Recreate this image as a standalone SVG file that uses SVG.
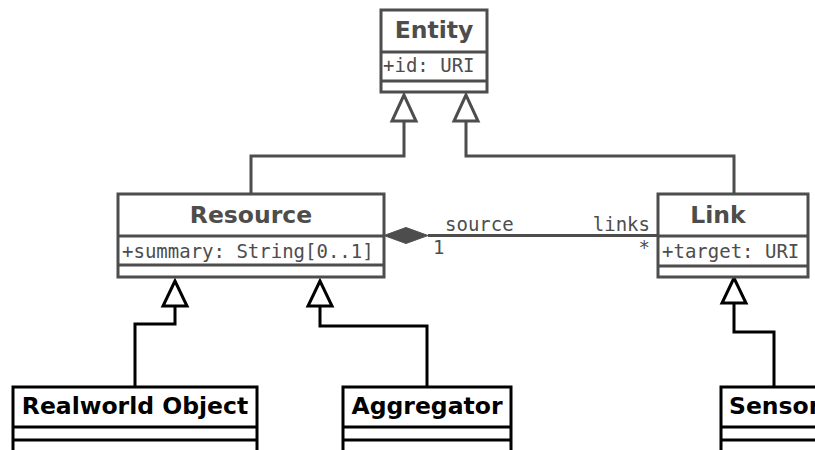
<svg xmlns="http://www.w3.org/2000/svg" width="815" height="450" viewBox="0 0 815 450">
<defs>
<style>
.g{fill:#fff;stroke:#4d4d4d;stroke-width:3}
.b{fill:#fff;stroke:#000;stroke-width:3}
.gl{fill:none;stroke:#4d4d4d;stroke-width:3}
.bl{fill:none;stroke:#000;stroke-width:3}
.t{font-family:"DejaVu Sans",sans-serif;font-weight:bold;font-size:23.5px}
.a{font-family:"DejaVu Sans Mono",monospace;font-size:19px;fill:#4d4d4d}
.tg{fill:#4d4d4d}
.tb{fill:#000}
</style>
</defs>
<g id="connectors">
<path class="gl" d="M251 194 V156 H404 V121"/>
<polygon class="g" points="404,95 392,121 416,121"/>
<path class="gl" d="M734 194 V156 H466 V121"/>
<polygon class="g" points="466,95 454,121 478,121"/>
<path class="gl" d="M428 235.5 H658"/>
<polygon points="384,235.5 406,227.5 428,235.5 406,243.5" fill="#4d4d4d" stroke="#4d4d4d" stroke-width="1"/>
<text class="a" x="445" y="231">source</text>
<text class="a" x="650" y="231" text-anchor="end">links</text>
<text class="a" x="433" y="254">1</text>
<text class="a" x="650" y="254" text-anchor="end">*</text>
<path class="bl" d="M135 387 V324 H175 V306"/>
<polygon class="b" points="175,281 163,306 187,306"/>
<path class="bl" d="M427 387 V326 H320 V306"/>
<polygon class="b" points="320,281 308,306 332,306"/>
<path class="bl" d="M774 387 V332 H734 V303"/>
<polygon class="b" points="734,278 722,303 746,303"/>
</g>
<g id="entity">
<rect class="g" x="381" y="10" width="106" height="82"/>
<path class="gl" d="M381 52 H487 M381 81 H487"/>
<text class="t tg" x="434" y="38" text-anchor="middle">Entity</text>
<text class="a" x="383" y="72">+id: URI</text>
</g>
<g id="resource">
<rect class="g" x="118" y="194" width="266" height="83"/>
<path class="gl" d="M118 236 H384 M118 265 H384"/>
<text class="t tg" x="251" y="223" text-anchor="middle">Resource</text>
<text class="a" x="122" y="258">+summary: String[0..1]</text>
</g>
<g id="link">
<rect class="g" x="658" y="194" width="150" height="83"/>
<path class="gl" d="M658 236 H808 M658 266 H808"/>
<text class="t tg" x="718" y="223" text-anchor="middle">Link</text>
<text class="a" x="662" y="258">+target: URI</text>
</g>
<g id="realworld">
<rect class="b" x="13" y="387" width="244" height="80"/>
<path class="bl" d="M13 427 H257 M13 440 H257"/>
<text class="t tb" x="135" y="414" text-anchor="middle">Realworld Object</text>
</g>
<g id="aggregator">
<rect class="b" x="343" y="387" width="168" height="80"/>
<path class="bl" d="M343 427 H511 M343 440 H511"/>
<text class="t tb" x="427" y="414" text-anchor="middle">Aggregator</text>
</g>
<g id="sensor">
<rect class="b" x="721" y="387" width="110" height="80"/>
<path class="bl" d="M721 427 H831 M721 440 H831"/>
<text class="t tb" x="729" y="414">Sensor</text>
</g>
</svg>
